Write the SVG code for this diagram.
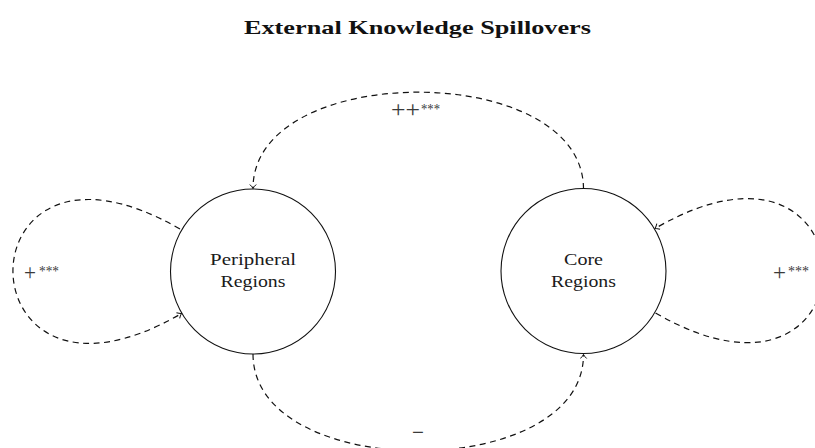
<svg xmlns="http://www.w3.org/2000/svg" width="815" height="448" viewBox="0 0 815 448">
<style>
.node{fill:#fff;stroke:#111;stroke-width:1.1}
.nl{font-family:"Liberation Serif","Times New Roman",serif;font-size:17.5px;fill:#1a1a1a;text-anchor:middle}
.edge{fill:none;stroke:#111;stroke-width:1.2;stroke-dasharray:6 4.5}
.lbl{font-family:"Liberation Serif","Times New Roman",serif;font-size:23px;fill:#3a3a3a}
.sup{font-family:"Liberation Serif","Times New Roman",serif;font-size:15px;fill:#3a3a3a}
.title{font-family:"Liberation Serif","Times New Roman",serif;font-size:19.5px;font-weight:bold;fill:#111;text-anchor:middle}
</style>
<defs>
<marker id="arr" viewBox="-5 -4 6 8" refX="0" refY="0" markerWidth="6" markerHeight="8" markerUnits="userSpaceOnUse" orient="auto">
<path d="M -4 -3.2 Q -1.5 -0.6 0 0 Q -1.5 0.6 -4 3.2" fill="none" stroke="#111" stroke-width="1"/>
</marker>
</defs>
<text class="title" x="417.5" y="34" textLength="347" lengthAdjust="spacingAndGlyphs">External Knowledge Spillovers</text>
<g id="connectors">
<path class="edge" d="M 583.5 189 C 583.5 60, 253 60, 253 188.5" marker-end="url(#arr)"/>
<path class="edge" d="M 253 354 C 253 483, 583.5 483, 583.5 354.5" marker-end="url(#arr)"/>
<path class="edge" d="M 180 229 C -44 100, -42 443.5, 181.5 313.5" marker-end="url(#arr)"/>
<path class="edge" d="M 655.5 313 C 879.8 442.5, 878.8 98.5, 655 228.5" marker-end="url(#arr)"/>
<text class="lbl" x="391" y="117" textLength="29" lengthAdjust="spacingAndGlyphs">++</text>
<text class="sup" x="421" y="113.5" textLength="19" lengthAdjust="spacingAndGlyphs">***</text>
<text class="lbl" x="24" y="279.5" textLength="12" lengthAdjust="spacingAndGlyphs">+</text>
<text class="sup" x="39" y="275.5" textLength="20" lengthAdjust="spacingAndGlyphs">***</text>
<text class="lbl" x="773" y="279.5" textLength="13" lengthAdjust="spacingAndGlyphs">+</text>
<text class="sup" x="788" y="275.5" textLength="21" lengthAdjust="spacingAndGlyphs">***</text>
<text class="lbl" x="412" y="440" textLength="12" lengthAdjust="spacingAndGlyphs">−</text>
</g>
<g id="peripheral">
<circle class="node" cx="253" cy="271.5" r="82.5"/>
<text class="nl" x="253" y="265" textLength="86" lengthAdjust="spacingAndGlyphs">Peripheral</text>
<text class="nl" x="253" y="287" textLength="65" lengthAdjust="spacingAndGlyphs">Regions</text>
</g>
<g id="core">
<circle class="node" cx="583.5" cy="271" r="82.5"/>
<text class="nl" x="583.5" y="265" textLength="39" lengthAdjust="spacingAndGlyphs">Core</text>
<text class="nl" x="583.5" y="287" textLength="65" lengthAdjust="spacingAndGlyphs">Regions</text>
</g>
</svg>
